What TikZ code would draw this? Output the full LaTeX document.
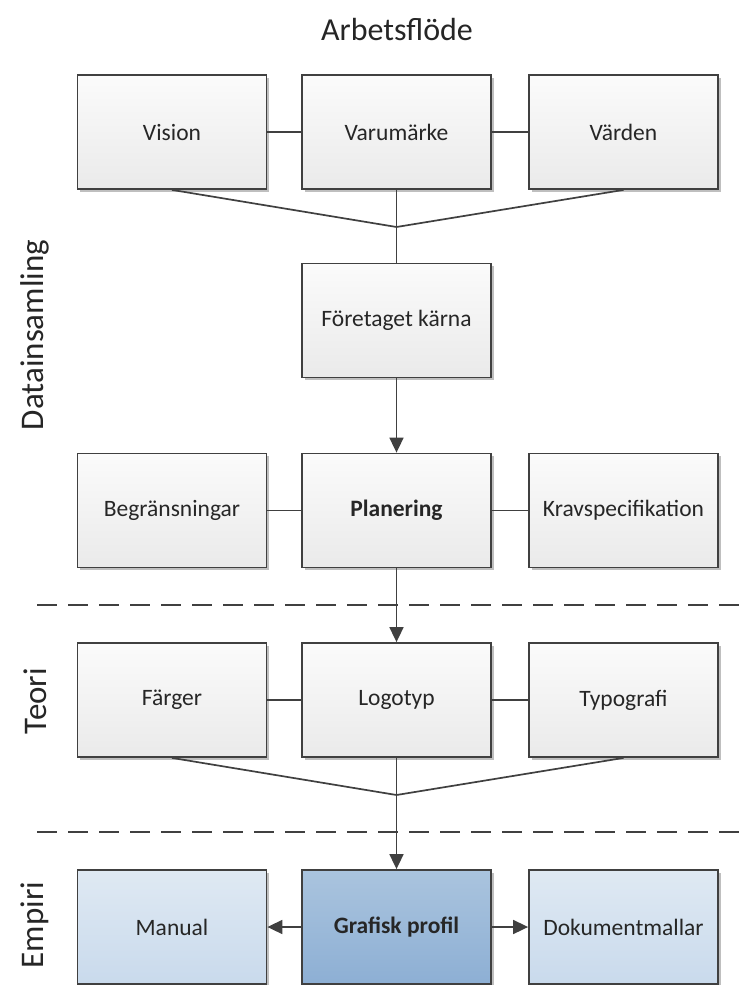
\documentclass[tikz,border=0pt]{standalone}
\usepackage{fontspec}
\setmainfont{Carlito}
\usetikzlibrary{arrows.meta,shadows}
\definecolor{linec}{HTML}{404040}
\definecolor{gtop}{HTML}{FBFBFB}
\definecolor{gbot}{HTML}{EAEAEA}
\definecolor{ltop}{HTML}{DFE9F3}
\definecolor{lbot}{HTML}{C9DAEC}
\definecolor{dtop}{HTML}{AAC4DE}
\definecolor{dbot}{HTML}{8DAFD4}
\tikzset{
  x=1pt, y=-1pt,
  box/.style={draw=linec, line width=1.8pt, minimum width=189pt, minimum height=114pt,
    inner sep=0pt, font=\fontsize{23.5}{26}\selectfont, text=black!85,
    drop shadow={shadow xshift=2.5pt, shadow yshift=-2.5pt, opacity=0.25, fill=black}},
  graybox/.style={box, top color=gtop, bottom color=gbot},
  lightbox/.style={box, top color=ltop, bottom color=lbot},
  darkbox/.style={box, top color=dtop, bottom color=dbot, font=\fontsize{23.5}{26}\selectfont\bfseries},
  conn/.style={draw=linec, line width=1.7pt},
  arr/.style={conn, -{Triangle[width=14pt,length=15pt]}},
  sep/.style={draw=linec, line width=1.8pt, dash pattern=on 20pt off 11pt},
  side/.style={rotate=90, font=\fontsize{33}{36}\selectfont, text=black!85},
}
\begin{document}
\begin{tikzpicture}
\useasboundingbox[fill=white] (0,0) rectangle (744,985);
\node[font=\fontsize{32}{36}\selectfont, text=black!85] (title) at (397,30) {Arbetsflöde};
% row 1
\node[graybox] (vision) at (172,132) {Vision};
\node[graybox] (varu) at (396.5,132) {Varumärke};
\node[graybox] (varden) at (623.5,132) {Värden};
\node[graybox] (kart) at (396.5,320.5) {Företaget kärna};
\node[graybox] (begr) at (172,510.5) {Begränsningar};
\node[graybox, font=\fontsize{23.5}{26}\selectfont\bfseries] (plan) at (396.5,510.5) {Planering};
\node[graybox] (krav) at (623.5,510.5) {Kravspecifikation};
\node[graybox] (farg) at (172,700) {Färger};
\node[graybox] (logo) at (396.5,700) {Logotyp};
\node[graybox] (typo) at (623.5,700) {Typografi};
\node[lightbox] (manual) at (172,927) {Manual};
\node[darkbox] (graf) at (396.5,927) {Grafisk profil};
\node[lightbox] (dok) at (623.5,927) {Dokumentmallar};
% side labels
\node[side] (lab1) at (35,335) {Datainsamling};
\node[side] (lab2) at (35,701) {Teori};
\node[side] (lab3) at (35,925) {Empiri};
% separators
\coordinate (s1a) at (37,605); \coordinate (s1b) at (744,605);
\coordinate (s2a) at (37,832); \coordinate (s2b) at (744,832);
\draw[sep] (s1a) -- (s1b);
\draw[sep] (s2a) -- (s2b);
% junctions
\coordinate (j1) at (396.5,227);
\coordinate (j2) at (396.5,795);
% connectors
\draw[conn] (vision) -- (varu);
\draw[conn] (varu) -- (varden);
\draw[conn] (vision.south) -- (j1) -- (varden.south);
\draw[conn] (varu.south) -- (kart.north);
\draw[arr] (kart.south) -- (plan.north);
\draw[conn] (begr) -- (plan);
\draw[conn] (plan) -- (krav);
\draw[arr] (plan.south) -- (logo.north);
\draw[conn] (farg) -- (logo);
\draw[conn] (logo) -- (typo);
\draw[conn] (farg.south) -- (j2) -- (typo.south);
\draw[arr] (logo.south) -- (graf.north);
\draw[arr] (graf.west) -- (manual.east);
\draw[arr] (graf.east) -- (dok.west);
\end{tikzpicture}
\end{document}
